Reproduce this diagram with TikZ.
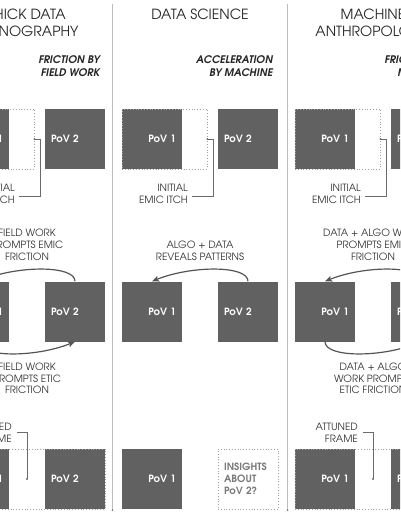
\documentclass[tikz,border=0pt]{standalone}
\usepackage{fontspec}
\setmainfont{TeX Gyre Adventor}
\newfontfamily\sbfam{texgyreadventor-bolditalic.otf}
\usetikzlibrary{arrows.meta,calc}
\definecolor{boxgray}{HTML}{616161}
\definecolor{dotgray}{HTML}{A0A0A0}
\definecolor{titlegray}{HTML}{262626}
\definecolor{labgray}{HTML}{333333}
\definecolor{conngray}{HTML}{6A6A6A}
\definecolor{arcgray}{HTML}{555555}
\definecolor{sepgray}{HTML}{BDBDBD}
\definecolor{insgray}{HTML}{7A7A7A}
\newcommand\ttlfont{\fontsize{14}{17}\selectfont}
\newcommand\sbfont{\sbfam\fontsize{10.5}{13}\selectfont}
\newcommand\lbfont{\fontsize{10}{11.8}\selectfont}
\newcommand\pvfont{\fontsize{10}{12}\selectfont\bfseries}
\begin{document}
\begin{tikzpicture}[x=1pt,y=-1pt,
  pov/.style={rectangle, fill=boxgray, minimum width=60pt, minimum height=60pt, inner xsep=6pt, inner ysep=0pt, text width=48pt, text=white, font=\pvfont},
  povL/.style={pov, align=right},
  povR/.style={pov, align=left},
  dotbox/.style={draw=dotgray, dotted, line width=0.8pt, inner sep=0pt, minimum height=60pt},
  ttl/.style={font=\ttlfont, text=titlegray, align=center, inner sep=0pt},
  subt/.style={font=\sbfont, text=titlegray, align=right, anchor=east, inner sep=0pt},
  lab/.style={font=\lbfont, text=labgray, align=center, inner sep=0pt},
  labR/.style={font=\lbfont, text=labgray, align=right, anchor=east, inner sep=0pt},
  conn/.style={draw=conngray, line width=0.8pt},
  arc/.style={draw=arcgray, line width=1.2pt, -{Stealth[length=7pt,width=6pt,inset=1.5pt]}},
  sepline/.style={draw=sepgray, line width=1.4pt},
  insbox/.style={dotbox, minimum width=60pt, text width=48pt, inner xsep=6pt, align=left, font=\pvfont, text=insgray}]
\useasboundingbox (0,0) rectangle (400,516);
\fill[white] (0,0) rectangle (400,516);
\clip (0,0) rectangle (400,516);

% separators
\draw[sepline] (112.5,4) -- (112.5,510);
\draw[sepline] (287.5,4) -- (287.5,510);
\fill[sepgray!70!black] (112.5,510) circle (1);
\fill[sepgray!70!black] (287.5,510) circle (1);

% ---------- column 1 ----------
\node[ttl] (t1) at (27,22.5) {THICK DATA\\ETHNOGRAPHY};
\node[subt] (s1) at (100,66.5) {FRICTION BY\\FIELD WORK};
\node[povL] (a11) at (-21,139) {PoV 1};
\node[povR] (b11) at (75,139) {PoV 2};
\node[dotbox, minimum width=85pt] (d11) at (-8.5,139) {};
\node[labR] (i11) at (15,194) {INITIAL\\EMIC ITCH};
\draw[conn] (d11.east) -- ++(6,0) |- ($(i11.east)+(4,2)$);
\fill[conngray] (d11.east) circle (1);

\node[lab] (e1) at (27,245) {FIELD WORK\\PROMPTS EMIC\\FRICTION};
\node[povL] (a12) at (-21,311.5) {PoV 1};
\node[povR] (b12) at (75,311.5) {PoV 2};
\draw[arc] (b12.north) .. controls +(0,-16) and +(40,-16) .. (a12.north);
\draw[arc] (a12.south) .. controls +(0,16) and +(-40,16) .. (b12.south);
\node[lab] (g1) at (27,378.5) {FIELD WORK\\PROMPTS ETIC\\FRICTION};

\node[labR] (at1) at (12,432.5) {ATTUNED\\FRAME};
\node[povL] (a13) at (-21,479) {PoV 1};
\node[povR] (b13) at (75,479) {PoV 2};
\node[dotbox, minimum width=156pt] (f1) at (27,479) {};
\coordinate (k1) at (27,479);
\draw[conn] ($(at1.east)+(5,0)$) -| (k1);
\fill[conngray] (k1) circle (1.2);

% ---------- column 2 ----------
\node[ttl] (t2) at (200,14) {DATA SCIENCE};
\node[subt] (s2) at (273,66.5) {ACCELERATION\\BY MACHINE};
\node[povL] (a21) at (152,139) {PoV 1};
\node[povR] (b21) at (248,139) {PoV 2};
\node[dotbox, minimum width=85pt] (d21) at (164.5,139) {};
\node[labR] (i21) at (188,194) {INITIAL\\EMIC ITCH};
\draw[conn] (d21.east) -- ++(6,0) |- ($(i21.east)+(4,2)$);
\fill[conngray] (d21.east) circle (1);

\node[lab] (e2) at (200,250.5) {ALGO + DATA\\REVEALS PATTERNS};
\node[povL] (a22) at (152,311.5) {PoV 1};
\node[povR] (b22) at (248,311.5) {PoV 2};
\draw[arc] (b22.north) .. controls +(0,-16) and +(40,-16) .. (a22.north);

\node[povL] (a23) at (152,479) {PoV 1};
\node[insbox] (n23) at (248,479) {INSIGHTS\\ABOUT\\PoV 2?};

% ---------- column 3 ----------
\node[ttl] (t3) at (373,22.5) {MACHINE\\ANTHROPOLOGY};
\node[subt] (s3) at (446,66.5) {FRICTION BY\\MACHINE};
\node[povL] (a31) at (325,139) {PoV 1};
\node[povR] (b31) at (421,139) {PoV 2};
\node[dotbox, minimum width=85pt] (d31) at (337.5,139) {};
\node[labR] (i31) at (361,194) {INITIAL\\EMIC ITCH};
\draw[conn] (d31.east) -- ++(6,0) |- ($(i31.east)+(4,2)$);
\fill[conngray] (d31.east) circle (1);

\node[lab] (e3) at (373,245) {DATA + ALGO WORK\\PROMPTS EMIC\\FRICTION};
\node[povL] (a32) at (325,311.5) {PoV 1};
\node[povR] (b32) at (421,311.5) {PoV 2};
\draw[arc] (b32.north) .. controls +(0,-16) and +(40,-16) .. (a32.north);
\draw[arc] (a32.south) .. controls +(0,16) and +(-40,16) .. (b32.south);
\node[lab] (g3) at (373,378.5) {DATA + ALGO\\WORK PROMPTS\\ETIC FRICTION};

\node[labR] (at3) at (358,432.5) {ATTUNED\\FRAME};
\node[povL] (a33) at (325,479) {PoV 1};
\node[povR] (b33) at (421,479) {PoV 2};
\node[dotbox, minimum width=156pt] (f3) at (373,479) {};
\coordinate (k3) at (373,479);
\draw[conn] ($(at3.east)+(5,0)$) -| (k3);
\fill[conngray] (k3) circle (1.2);
\end{tikzpicture}
\end{document}
